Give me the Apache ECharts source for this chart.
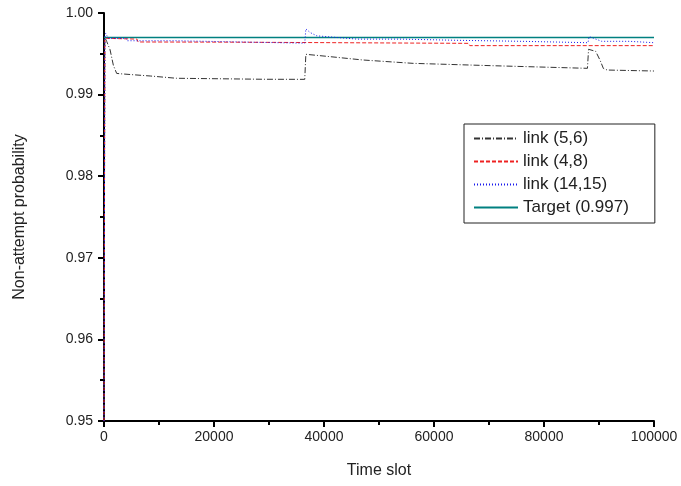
<!DOCTYPE html>
<html><head><meta charset="utf-8">
<script src="https://cdn.jsdelivr.net/npm/echarts@6/dist/echarts.min.js"></script>
<style>html,body{margin:0;padding:0;background:#fff}#c{width:681px;height:486px}</style>
</head><body><div id="c"></div>
<script>
const xTicks = [0, 20000, 40000, 60000, 80000, 100000];
const yTicks = [0.95, 0.96, 0.97, 0.98, 0.99, 1.00];

const link56T = [0,150,500,1100,1700,2300,3000,8400,13200,29000,36500,36700,41100,47100,56200,70700,87900,88100,89400,90200,90800,91500,100000];
const link56V = [0.95,0.997,0.9965,0.9955,0.9936,0.9926,0.99255,0.99228,0.9920,0.99188,0.99187,0.99494,0.99465,0.99424,0.99383,0.99354,0.99322,0.99555,0.9953,0.9942,0.9932,0.99301,0.99289];

const link48T = [0,150,6000,6200,21700,21900,66300,66500,100000];
const link48V = [0.95,0.9969,0.9968,0.99645,0.99643,0.9963,0.99628,0.9960,0.9960];

const link1415T = [0,150,300,800,4000,4200,13000,13200,36500,36700,37500,38700,46000,54000,54200,64500,64700,76000,76200,88000,88200,89000,90500,95500,95700,100000];
const link1415V = [0.95,0.997,0.9975,0.9969,0.9969,0.9966,0.9966,0.99645,0.9963,0.99805,0.9976,0.9972,0.9968,0.9968,0.99665,0.99665,0.99653,0.99653,0.99636,0.99636,0.9971,0.9969,0.99653,0.99653,0.99636,0.99636];

const targetT = [0, 100000];
const targetV = [0.997, 0.997];

const pairs = (t, v) => t.map((x, i) => [x, v[i]]);
const font = 'Liberation Sans, Arial, sans-serif';

const chart = echarts.init(document.getElementById('c'));
chart.setOption({
  animation: false,
  backgroundColor: '#fff',
  grid: {left: 104, right: 27, top: 13, bottom: 65},
  xAxis: {
    type: 'value', min: xTicks[0], max: xTicks[xTicks.length-1], interval: 20000,
    name: 'Time slot', nameLocation: 'middle', nameGap: 42,
    nameTextStyle: {fontFamily: font, fontSize: 16, color: '#222'},
    axisLine: {show: true, lineStyle: {color: '#000', width: 2}},
    axisTick: {show: true, inside: false, length: 6, lineStyle: {color: '#000', width: 2}},
    minorTick: {show: true, splitNumber: 2, length: 4, lineStyle: {color: '#000', width: 2}},
    axisLabel: {fontFamily: font, fontSize: 14, color: '#222', margin: 9, formatter: v => String(v)},
    splitLine: {show: false}
  },
  yAxis: {
    type: 'value', min: yTicks[0], max: yTicks[yTicks.length-1], interval: 0.01,
    name: 'Non-attempt probability', nameLocation: 'middle', nameGap: 76,
    nameTextStyle: {fontFamily: font, fontSize: 16, color: '#222'},
    axisLine: {show: true, lineStyle: {color: '#000', width: 2}},
    axisTick: {show: true, inside: false, length: 6, lineStyle: {color: '#000', width: 2}},
    minorTick: {show: true, splitNumber: 2, length: 4, lineStyle: {color: '#000', width: 2}},
    axisLabel: {fontFamily: font, fontSize: 14, color: '#222', margin: 11, formatter: v => v.toFixed(2)},
    splitLine: {show: false}
  },
  legend: {
    orient: 'vertical', left: 464, top: 124,
    backgroundColor: '#fff', borderColor: '#222', borderWidth: 1,
    padding: [6, 26, 7, 9], itemGap: 6, itemWidth: 44, itemHeight: 18,
    itemStyle: {opacity: 0},
    textStyle: {fontFamily: font, fontSize: 17, color: '#222'},
    data: ['link (5,6)', 'link (4,8)', 'link (14,15)', 'Target (0.997)']
  },
  series: [
    {name: 'link (5,6)', type: 'line', symbol: 'none', data: pairs(link56T, link56V),
     lineStyle: {color: '#333', width: 1, type: [6, 2, 1, 2]}, itemStyle: {color: '#333'}, z: 3},
    {name: 'link (4,8)', type: 'line', symbol: 'none', data: pairs(link48T, link48V),
     lineStyle: {color: '#ee2222', width: 1, type: [4, 2]}, itemStyle: {color: '#ee2222'}, z: 4},
    {name: 'link (14,15)', type: 'line', symbol: 'none', data: pairs(link1415T, link1415V),
     lineStyle: {color: '#1a1aee', width: 1, type: [1, 2]}, itemStyle: {color: '#1a1aee'}, z: 5},
    {name: 'Target (0.997)', type: 'line', symbol: 'none', data: pairs(targetT, targetV),
     lineStyle: {color: '#008080', width: 1.5, type: 'solid'}, itemStyle: {color: '#008080'}, z: 2}
  ]
});
</script></body></html>
